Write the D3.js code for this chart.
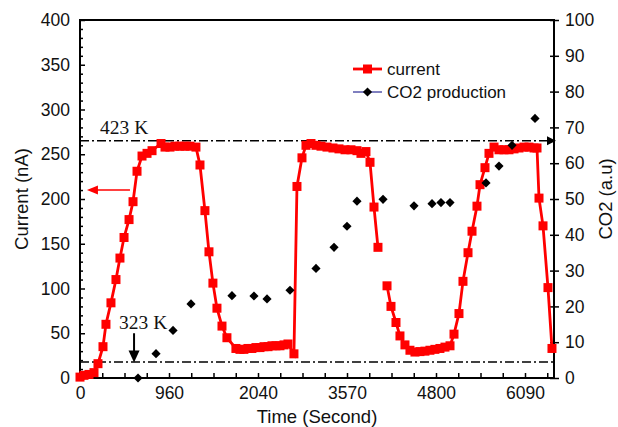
<!DOCTYPE html>
<html>
<head>
<meta charset="utf-8">
<script src="https://cdn.jsdelivr.net/npm/d3@7"></script>
<style>
  body { margin: 0; background: #fff; }
  svg { display: block; }
</style>
</head>
<body>
<svg id="chart" width="618" height="427"></svg>
<script>
// ---------- data ----------
const xTickLabels = [0, 960, 2040, 3570, 4800, 6090];
const yLeftTicks = [0, 50, 100, 150, 200, 250, 300, 350, 400];
const yRightTicks = [0, 10, 20, 30, 40, 50, 60, 70, 80, 90, 100];

// current (nA) vs time (s); null marks a gap in the line
const currentTime = [0, 43, 97, 151, 194, 248, 280, 334, 388, 431, 475, 529, 572, 615, 669, 723, 777,
  874, 917, 972, 1032, 1093, 1153, 1214, 1287, 1336, 1396, 1445, 1493, 1542, 1603, 1663,
  1772, 1821, 1869, 1918, 1966, 2015, 2074, 2143, 2212, 2280, 2349, 2418, 2487, 2555,
  2658, 2710, 2796, 2865, 2951, 3037, 3123, 3226, 3329, 3432, 3536, 3625, 3708, 3763, 3832,
  3888, 3943, 3998, null,
  4123, 4178, 4247, 4302, 4371, 4440, 4509, 4578, 4647, 4716, 4785, 4857, 4930, 5003,
  5061, 5133, 5191, 5264, 5322, 5394, 5438, 5510, 5568, 5641, 5713, 5786, 5858, 5931,
  6003, 6076, 6148, 6221, 6264, 6293, 6351, 6423, 6481];
const currentValues = [1, 3, 4, 6, 16, 35, 60, 84, 110, 134, 157, 177, 197, 231, 248, 251, 254,
  262, 258, 258, 259, 259, 259, 259, 258, 238, 187, 141, 106, 78, 58, 45,
  33, 32, 32, 33, 33, 34, 34, 35, 35, 36, 36, 36, 37, 38,
  27, 214, 246, 260, 262, 260, 259, 258, 257, 256, 255, 255, 254, 251, 253,
  241, 191, 146, null,
  103, 80, 62, 47, 37, 31, 29, 29.5, 30, 31, 32, 33, 34.5, 36,
  49, 72, 108, 140, 164, 192, 216, 235, 251, 258, 255, 255, 255, 256,
  257, 258, 258, 257, 257, 201, 170, 101, 33];

// CO2 production (a.u) vs time (s)
const co2Time = [626, 820, 1009, 1227, 1724, 1991, 2195, 2590, 3037, 3347, 3570, 3708,
  4068, 4496, 4745, 4872, 5003, 5525, 5713, 5902, 6235];
const co2Values = [0, 6.8, 13.3, 20.7, 23, 22.9, 22.1, 24.5, 30.6, 36.5, 42.4, 49.4,
  49.9, 48.1, 48.7, 49, 49, 54.5, 59.2, 65, 72.5];

// reference temperature levels (nA) and labels
const refLevels = [265, 18];
const refLabels = ["423 K", "323 K"];
const seriesNames = ["current", "CO2 production"];

// ---------- layout ----------
const pLeft = 80, pRight = 554, pTop = 20, pBottom = 378;
const labelStep = 89;

const svg = d3.select("#chart");

const x = d3.scaleLinear()
  .domain(xTickLabels)
  .range(xTickLabels.map((d, i) => pLeft + i * labelStep));
const xEnd = x.invert(pRight);

const yL = d3.scaleLinear().domain([0, 400]).range([pBottom, pTop]);
const yR = d3.scaleLinear().domain([0, 100]).range([pBottom, pTop]);

const fontSans = "'Liberation Sans', Arial, sans-serif";
const fontSerif = "'Liberation Serif', 'Times New Roman', serif";

// ---------- x axis ----------
const xMinor = [];
for (let i = 0; i < xTickLabels.length - 1; i++) {
  for (let j = 1; j < 4; j++) xMinor.push(xTickLabels[i] + j / 4 * (xTickLabels[i + 1] - xTickLabels[i]));
}
{
  const last = xTickLabels[xTickLabels.length - 1];
  const step = (last - xTickLabels[xTickLabels.length - 2]) / 4;
  for (let v = last + step; v < xEnd; v += step) xMinor.push(v);
}
const xAll = xTickLabels.concat(xMinor);

const xAxisG = svg.append("g")
  .attr("transform", `translate(0,${pBottom})`)
  .call(d3.axisBottom(x).tickValues(xAll).tickSize(-5).tickPadding(9)
    .tickFormat(d => xTickLabels.includes(d) ? d : ""));
xAxisG.select(".domain").remove();

// ---------- left axis ----------
const yMinor = d3.range(0, 401, 10).filter(v => !yLeftTicks.includes(v));
svg.append("g")
  .attr("transform", `translate(${pLeft},0)`)
  .call(d3.axisLeft(yL).tickValues(yMinor).tickSize(-3).tickFormat(""))
  .select(".domain").remove();
const yAxisG = svg.append("g")
  .attr("transform", `translate(${pLeft},0)`)
  .call(d3.axisLeft(yL).tickValues(yLeftTicks).tickSize(-5).tickPadding(10));
yAxisG.select(".domain").remove();

// ---------- right axis ----------
const yRAxisG = svg.append("g")
  .attr("transform", `translate(${pRight},0)`)
  .call(d3.axisRight(yR).tickValues(yRightTicks).tickSize(5).tickPadding(6));
yRAxisG.select(".domain").remove();
yRAxisG.selectAll(".tick line").attr("x1", -4);

// frame
svg.append("rect")
  .attr("x", pLeft).attr("y", pTop)
  .attr("width", pRight - pLeft).attr("height", pBottom - pTop)
  .attr("fill", "none").attr("stroke", "#000").attr("stroke-width", 2);

svg.selectAll(".tick text")
  .attr("font-family", fontSans).attr("font-size", 17.5).attr("fill", "#111");
svg.selectAll(".tick line").attr("stroke", "#000").attr("stroke-width", 1.5);

// ---------- reference lines ----------
svg.selectAll("line.ref").data(refLevels).enter().append("line")
  .attr("class", "ref")
  .attr("x1", pLeft).attr("x2", pRight)
  .attr("y1", d => yL(d)).attr("y2", d => yL(d))
  .attr("stroke", "#000").attr("stroke-width", 1.5)
  .attr("stroke-dasharray", "9,3,2,3");

// arrowhead at end of upper reference line (pointing to right axis)
svg.append("path")
  .attr("d", `M${pRight + 2},${yL(refLevels[0])} l-9,-4.5 l0,9 z`)
  .attr("fill", "#000");

// labels
svg.append("text")
  .attr("x", x(216)).attr("y", yL(272.6))
  .attr("font-family", fontSerif).attr("font-size", 19.5).attr("fill", "#111")
  .text(refLabels[0]);
svg.append("text")
  .attr("x", x(421)).attr("y", yL(55.3))
  .attr("font-family", fontSerif).attr("font-size", 19.5).attr("fill", "#111")
  .text(refLabels[1]);

// black arrow to lower level
{
  const ax = x(583);
  const yA = yL(50), yTip = yL(refLevels[1]) + 0.5;
  svg.append("line").attr("x1", ax).attr("x2", ax).attr("y1", yA).attr("y2", yTip - 10)
    .attr("stroke", "#000").attr("stroke-width", 2);
  svg.append("path").attr("d", `M${ax},${yTip} l-5.5,-12 l11,0 z`).attr("fill", "#000");
}

// red arrow to left axis
{
  const ay = yL(210);
  const x1 = x(539), x2 = x(75);
  svg.append("line").attr("x1", x1).attr("x2", x2 + 9).attr("y1", ay).attr("y2", ay)
    .attr("stroke", "#f00").attr("stroke-width", 1.5);
  svg.append("path").attr("d", `M${x2},${ay} l11,-4.5 l0,9 z`).attr("fill", "#f00");
}

// ---------- current series ----------
const curData = currentTime.map((t, i) => ({ t, v: currentValues[i] }));
const line = d3.line()
  .defined(d => d.t !== null && d.v !== null)
  .x(d => x(d.t)).y(d => yL(d.v));
svg.append("path").datum(curData)
  .attr("d", line)
  .attr("fill", "none").attr("stroke", "#f00").attr("stroke-width", 2.8);
svg.selectAll("rect.cur").data(curData.filter(d => d.t !== null)).enter().append("rect")
  .attr("class", "cur")
  .attr("x", d => x(d.t) - 4.5).attr("y", d => yL(d.v) - 4.5)
  .attr("width", 9).attr("height", 9).attr("fill", "#f00");

// ---------- CO2 series ----------
const co2Data = co2Time.map((t, i) => ({ t, v: co2Values[i] }));
const diamond = d3.symbol().type(d3.symbolSquare).size(42);
svg.selectAll("path.co2").data(co2Data).enter().append("path")
  .attr("class", "co2")
  .attr("d", diamond)
  .attr("transform", d => `translate(${x(d.t)},${yR(d.v)}) rotate(45)`)
  .attr("fill", "#000");

// ---------- legend ----------
const lg = svg.append("g");
lg.append("line").attr("x1", 353).attr("x2", 382).attr("y1", 69).attr("y2", 69)
  .attr("stroke", "#f00").attr("stroke-width", 2.8);
lg.append("rect").attr("x", 363).attr("y", 64.5).attr("width", 9).attr("height", 9).attr("fill", "#f00");
lg.append("text").attr("x", 387).attr("y", 75).text(seriesNames[0]);
lg.append("line").attr("x1", 353).attr("x2", 382).attr("y1", 92).attr("y2", 92)
  .attr("stroke", "#000080").attr("stroke-width", 1);
lg.append("path").attr("d", diamond).attr("transform", "translate(367.5,92) rotate(45)").attr("fill", "#000");
lg.append("text").attr("x", 387).attr("y", 98).text(seriesNames[1]);
lg.selectAll("text").attr("font-family", fontSans).attr("font-size", 17).attr("fill", "#111");

// ---------- axis titles ----------
svg.append("text")
  .attr("transform", `translate(28,${(pTop + pBottom) / 2}) rotate(-90)`)
  .attr("text-anchor", "middle")
  .attr("font-family", fontSans).attr("font-size", 18.5).attr("fill", "#111")
  .text("Current (nA)");
svg.append("text")
  .attr("transform", `translate(612,${(pTop + pBottom) / 2}) rotate(-90)`)
  .attr("text-anchor", "middle")
  .attr("font-family", fontSans).attr("font-size", 18.5).attr("fill", "#111")
  .text("CO2 (a.u)");
svg.append("text")
  .attr("x", 317).attr("y", 423)
  .attr("text-anchor", "middle")
  .attr("font-family", fontSans).attr("font-size", 18.5).attr("fill", "#111")
  .text("Time (Second)");
</script>
</body>
</html>
